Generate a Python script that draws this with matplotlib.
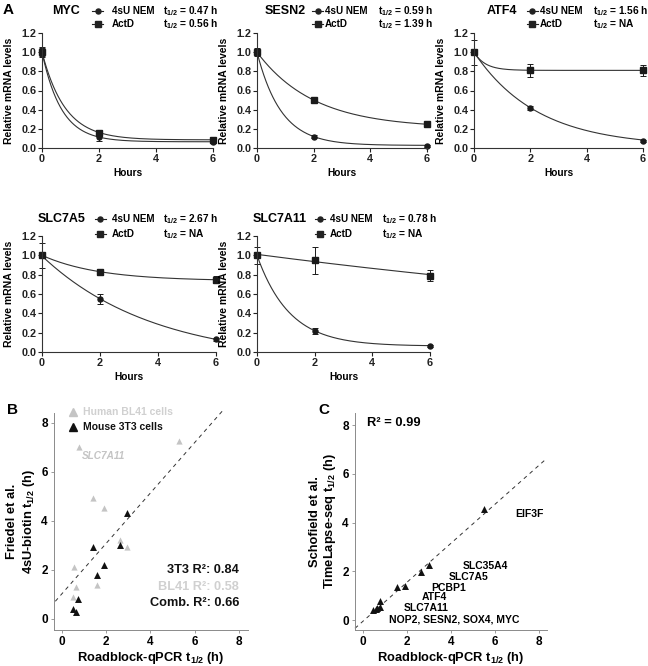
import numpy as np
import matplotlib
matplotlib.use("Agg")
import matplotlib.pyplot as plt
from matplotlib.lines import Line2D

plt.rcParams['font.family'] = ['Liberation Sans', 'DejaVu Sans']
plt.rcParams['font.weight'] = 'bold'
plt.rcParams['mathtext.fontset'] = 'custom'
plt.rcParams['mathtext.rm'] = 'Liberation Sans:bold'
plt.rcParams['mathtext.it'] = 'Liberation Sans:bold'
plt.rcParams['mathtext.bf'] = 'Liberation Sans:bold'

# ---------------- Panel A data ----------------
hours = [0, 2, 6]
genes = ['MYC', 'SESN2', 'ATF4', 'SLC7A5', 'SLC7A11']
nem_vals = [[1.0, 0.11, 0.065], [1.0, 0.12, 0.025], [1.0, 0.42, 0.075],
            [1.0, 0.55, 0.13], [1.0, 0.22, 0.065]]
nem_err = [[0.04, 0.04, 0.01], [0.02, 0.015, 0.01], [0.02, 0.02, 0.01],
           [0.02, 0.05, 0.02], [0.02, 0.03, 0.01]]
actd_vals = [[1.0, 0.16, 0.085], [1.0, 0.50, 0.25], [1.0, 0.81, 0.81],
             [1.0, 0.83, 0.75], [1.0, 0.95, 0.79]]
actd_err = [[0.05, 0.03, 0.02], [0.04, 0.015, 0.01], [0.13, 0.07, 0.06],
            [0.13, 0.03, 0.04], [0.09, 0.14, 0.06]]
nem_thalf = [0.47, 0.59, 1.56, 2.67, 0.78]
nem_thalf_label = ['0.47 h', '0.59 h', '1.56 h', '2.67 h', '0.78 h']
actd_thalf_label = ['0.56 h', '1.39 h', 'NA', 'NA', 'NA']
# one-phase decay fit parameters (Y0, plateau, rate constant)
nem_fit_y0 = [1.0, 1.0, 1.0, 0.993, 1.0]
nem_fit_plateau = [0.065, 0.027, 0.015, -0.10, 0.061]
actd_fit_y0 = [1.0, 1.0, 1.0, 1.0, 1.01]
actd_fit_plateau = [0.085, 0.208, 0.81, 0.735, 0.0]
actd_fit_k = [np.log(2) / 0.56, np.log(2) / 1.39, 2.5, 0.51, 0.0388]

# ---------------- Panel B data ----------------
bl41_x = [0.80, 5.30, 1.42, 1.91, 2.63, 2.92, 0.54, 0.66, 1.61, 0.51]
bl41_y = [7.02, 7.25, 4.94, 4.53, 3.21, 2.93, 2.12, 1.31, 1.40, 0.91]
t3_x = [2.92, 1.42, 1.91, 1.61, 2.63, 0.74, 0.51, 0.64]
t3_y = [4.33, 2.93, 2.22, 1.81, 3.01, 0.82, 0.41, 0.29]
b_fit = (1.03, 1.02)  # slope, intercept
b_r2 = ['3T3 R²: 0.84', 'BL41 R²: 0.58', 'Comb. R²: 0.66']

# ---------------- Panel C data ----------------
c_genes = ['EIF3F', 'SLC35A4', 'SLC7A5', 'PCBP1', 'ATF4', 'SLC7A11',
           'NOP2', 'SESN2', 'SOX4', 'MYC']
c_x = [5.50, 3.00, 2.67, 1.93, 1.56, 0.78, 0.78, 0.59, 0.65, 0.47]
c_y = [4.56, 2.25, 1.97, 1.40, 1.34, 0.80, 0.52, 0.47, 0.50, 0.42]
c_fit = (0.80, -0.06)
c_r2 = 'R² = 0.99'

W, H = 648, 666
fig = plt.figure(figsize=(W / 100, H / 100), dpi=100)


def fx(px):
    return px / W


def fy(py):
    return 1 - py / H


def rect(l, t, r, b):
    return [fx(l), fy(b), fx(r) - fx(l), fy(t) - fy(b)]


# axes rectangles (pixels: left, top, right, bottom)
a_rects = [(42, 33, 213, 148), (257, 33, 427, 148), (474, 33, 643, 148),
           (42, 236, 216, 352), (257, 236, 430, 352)]
a_leg = [  # title right x, marker x, text x, t1/2 x, row1 y, row2 y
    (80, 97.5, 112, 163, 11, 24),
    (306, 317.5, 325, 378, 11, 24),
    (517, 532, 540, 593, 11, 24),
    (86, 100, 112, 163, 219, 234),
    (307, 320, 330, 382, 219, 234),
]

tt = np.linspace(0, 6, 300)
for i, g in enumerate(genes):
    ax = fig.add_axes(rect(*a_rects[i]))
    k_n = np.log(2) / nem_thalf[i]
    yn = nem_fit_plateau[i] + (nem_fit_y0[i] - nem_fit_plateau[i]) * np.exp(-k_n * tt)
    ya = actd_fit_plateau[i] + (actd_fit_y0[i] - actd_fit_plateau[i]) * np.exp(-actd_fit_k[i] * tt)
    ax.plot(tt, yn, color='#333333', lw=0.8, clip_on=False)
    ax.plot(tt, ya, color='#333333', lw=0.8, clip_on=False)
    ax.errorbar(hours, actd_vals[i], yerr=actd_err[i], fmt='s', color='#1a1a1a',
                ms=4.2, capsize=2.2, elinewidth=0.7, capthick=0.7, clip_on=False)
    ax.errorbar(hours, nem_vals[i], yerr=nem_err[i], fmt='o', color='#1a1a1a',
                ms=3.6, capsize=2.2, elinewidth=0.7, capthick=0.7, clip_on=False)
    ax.set_xlim(0, 6)
    ax.set_ylim(0, 1.2)
    ax.set_xticks([0, 2, 4, 6])
    ax.set_yticks(np.arange(0, 1.21, 0.2))
    ax.set_yticklabels([f'{v:.1f}' for v in np.arange(0, 1.21, 0.2)])
    for s in ['top', 'right']:
        ax.spines[s].set_visible(False)
    for s in ['left', 'bottom']:
        ax.spines[s].set_linewidth(0.8)
        ax.spines[s].set_color('#333333')
    ax.tick_params(direction='out', length=3, width=0.8, labelsize=7.8, pad=1,
                   colors='#222222')
    for lab in ax.get_xticklabels() + ax.get_yticklabels():
        lab.set_fontweight('bold')
    ax.set_xlabel('Hours', fontsize=7.3, fontweight='bold', labelpad=3)
    ax.set_ylabel('Relative mRNA levels', fontsize=7.5, fontweight='bold')
    ax.yaxis.set_label_coords(-28 / (a_rects[i][2] - a_rects[i][0]), 0.5)

    tx, mx, lx, hx, y1, y2 = a_leg[i]
    fig.text(fx(tx), fy(y1), g, ha='right', va='center', fontsize=9, fontweight='bold')
    for yy, mk, lab, hl in [(y1, 'o', '4sU NEM', nem_thalf_label[i]),
                            (y2, 's', 'ActD', actd_thalf_label[i])]:
        fig.add_artist(Line2D([fx(mx - 5.5), fx(mx + 5.5)], [fy(yy), fy(yy)],
                              color='#222222', lw=0.8))
        fig.add_artist(Line2D([fx(mx)], [fy(yy)], marker=mk, ms=3.6 if mk == 'o' else 4.0,
                              color='#222222', lw=0))
        fig.text(fx(lx), fy(yy), lab, ha='left', va='center', fontsize=7.1, fontweight='bold')
        fig.text(fx(hx), fy(yy), r'$t_{1/2}$ = ' + hl, ha='left', va='center',
                 fontsize=7.3, fontweight='bold')

fig.text(fx(3), fy(10), 'A', fontsize=11, fontweight='bold', ha='left', va='center')
fig.text(fx(7), fy(410), 'B', fontsize=11, fontweight='bold', ha='left', va='center')
fig.text(fx(318), fy(410), 'C', fontsize=11, fontweight='bold', ha='left', va='center')

GRAY = '#c4c4c4'
LGRAY = '#d0d0d0'
SPINE = '#8a8a8a'


def style_bc(ax):
    for s in ['top', 'right']:
        ax.spines[s].set_visible(False)
    for s in ['left', 'bottom']:
        ax.spines[s].set_linewidth(0.7)
        ax.spines[s].set_color(SPINE)
    ax.tick_params(direction='out', length=2, width=0.6, color=SPINE,
                   labelsize=8.5, pad=2.5)
    ax.set_xticks([0, 2, 4, 6, 8])
    ax.set_yticks([0, 2, 4, 6, 8])
    for lab in ax.get_xticklabels() + ax.get_yticklabels():
        lab.set_fontweight('bold')


# ---------------- Panel B ----------------
axb = fig.add_axes(rect(54, 413, 248, 630))
axb.set_xlim(-0.35, 8.4)
axb.set_ylim(-0.45, 8.4)
xl = np.array([-0.29, 7.30])
axb.plot(xl, b_fit[0] * xl + b_fit[1], ls=(0, (4, 4)), color='#333333', lw=0.7, clip_on=False)
axb.scatter(bl41_x, bl41_y, marker='^', s=20, color=GRAY, zorder=3, linewidths=0)
axb.scatter(t3_x, t3_y, marker='^', s=25, color='#111111', zorder=4, linewidths=0)
axb.text(0.9, 6.65, 'SLC7A11', color=GRAY, fontsize=7.2,
         style='italic', fontweight='bold', ha='left', va='center')
style_bc(axb)
# legend (drawn in axes coordinates)
for yy, col, lab, tcol in [(1.005, GRAY, 'Human BL41 cells', LGRAY),
                           (0.935, '#111111', 'Mouse 3T3 cells', '#111111')]:
    axb.plot([0.098], [yy], marker='^', ms=5.8, color=col, lw=0, transform=axb.transAxes,
             clip_on=False)
    axb.text(0.15, yy, lab, color=tcol, fontsize=7.5, fontweight='bold', ha='left',
             va='center', transform=axb.transAxes)
for yy, lab, col in zip([2.0, 1.32, 0.64], b_r2, ['#111111', LGRAY, '#111111']):
    axb.text(8.0, yy, lab, color=col, fontsize=9.2, ha='right', va='center')
axb.set_xlabel(r'Roadblock-qPCR $t_{1/2}$ (h)', fontsize=9.3, fontweight='bold', labelpad=1)
axb.set_ylabel('Friedel et al.\n' + r'4sU-biotin $t_{1/2}$ (h)', fontsize=9.3,
               fontweight='bold', labelpad=3, linespacing=1.25)

# ---------------- Panel C ----------------
axc = fig.add_axes(rect(355, 413, 547, 630))
axc.set_xlim(-0.35, 8.38)
axc.set_ylim(-0.41, 8.5)
xl = np.array([-0.35, 8.38])
axc.plot(xl, c_fit[0] * xl + c_fit[1], ls=(0, (4, 4)), color='#333333', lw=0.7, clip_on=False)
axc.scatter(c_x, c_y, marker='^', s=25, color='#111111', zorder=4, linewidths=0)
style_bc(axc)
c_label_pos = [(6.93, 4.36), (4.55, 2.21), (3.93, 1.77), (3.11, 1.32), (2.69, 0.93),
               (1.88, 0.48)]
for name, (lx_, ly_) in zip(c_genes[:6], c_label_pos):
    axc.text(lx_, ly_, name, fontsize=7.5, ha='left', va='center', fontweight='bold')
axc.text(1.21, 0.03, ', '.join(c_genes[6:]), fontsize=7.5, ha='left', va='center',
         fontweight='bold')
axc.text(0.18, 8.1, c_r2, fontsize=9.3, ha='left', va='center', fontweight='bold')
axc.set_xlabel(r'Roadblock-qPCR $t_{1/2}$ (h)', fontsize=9.3, fontweight='bold', labelpad=1)
axc.set_ylabel('Schofield et al.\n' + r'TimeLapse-seq $t_{1/2}$ (h)', fontsize=9.3,
               fontweight='bold', labelpad=3, linespacing=1.1)

fig.savefig('out.png', dpi=100)
